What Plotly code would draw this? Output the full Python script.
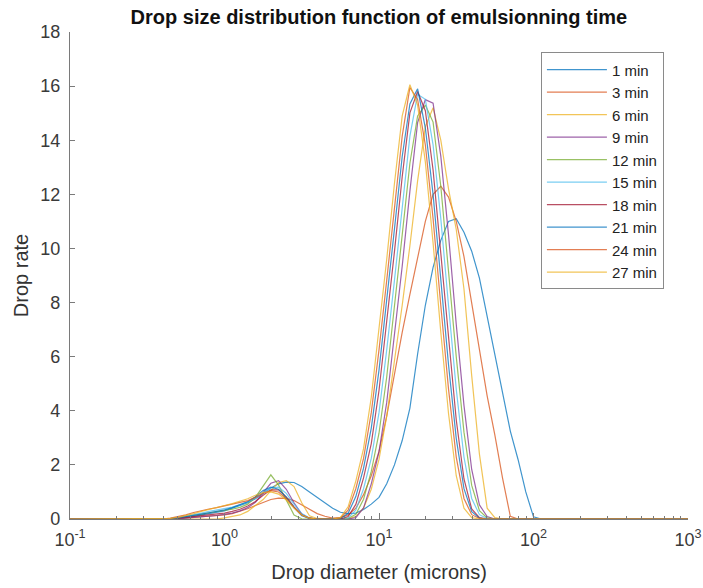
import plotly.graph_objects as go

# particle size bins (microns)
diameter = [0.1,
            0.398, 0.447, 0.501, 0.562, 0.631, 0.708, 0.794, 0.891, 1.000, 1.122,
            1.259, 1.413, 1.585, 1.778, 1.995, 2.239, 2.512, 2.818, 3.162, 3.548,
            3.981, 4.467, 5.012, 5.623, 6.310, 7.079, 7.943, 8.913, 10.00, 11.22,
            12.59, 14.13, 15.85, 17.78, 19.95, 22.39, 25.12, 28.18, 31.62, 35.48,
            39.81, 44.67, 50.12, 56.23, 63.10, 70.79, 79.43, 89.13, 100.0, 112.2,
            125.9, 1000]

rate_01 = [0,
           0, 0, 0.02, 0.05, 0.1, 0.15, 0.2, 0.25, 0.3, 0.4,
           0.5, 0.6, 0.75, 0.95, 1.15, 1.3, 1.36, 1.35, 1.2, 1.0,
           0.8, 0.6, 0.4, 0.25, 0.2, 0.22, 0.35, 0.55, 0.8, 1.3,
           2.0, 2.9, 4.1, 6.1, 7.9, 9.3, 10.3, 11.0, 11.1, 10.6,
           9.9, 8.9, 7.5, 6.1, 4.6, 3.25, 2.2, 1.0, 0.08, 0,
           0, 0]
rate_03 = [0,
           0, 0, 0.02, 0.04, 0.06, 0.08, 0.1, 0.12, 0.15, 0.2,
           0.28, 0.38, 0.5, 0.62, 0.72, 0.77, 0.76, 0.68, 0.52, 0.35,
           0.2, 0.1, 0.03, 0.05, 0.15, 0.4, 0.9, 1.6, 2.5, 3.8,
           5.4, 6.9, 8.3, 9.6, 11.0, 12.0, 12.3, 11.9, 11.0, 9.7,
           8.0, 6.3, 4.55, 3.1, 1.5, 0.1, 0, 0, 0, 0,
           0, 0]
rate_06 = [0,
           0, 0, 0, 0, 0, 0, 0, 0, 0.04, 0.09,
           0.15, 0.28, 0.5, 0.72, 1.05, 1.35, 1.42, 1.2, 0.6, 0.12,
           0.02, 0, 0, 0, 0, 0.1, 0.4, 1.1, 2.2, 3.8,
           5.8, 7.9, 10.1, 12.5, 14.5, 15.2, 14.0, 12.2, 10.7, 8.5,
           5.3, 2.4, 0.4, 0.05, 0, 0, 0, 0, 0, 0,
           0, 0]
rate_09 = [0,
           0, 0, 0.01, 0.03, 0.05, 0.07, 0.1, 0.13, 0.17, 0.22,
           0.3, 0.42, 0.62, 0.95, 1.32, 1.42, 1.1, 0.6, 0.18, 0.03,
           0, 0, 0, 0, 0, 0.05, 0.41, 1.3, 2.48, 4.31,
           6.75, 9.34, 12.12, 14.65, 15.5, 15.37, 13.41, 10.5, 7.2, 4.2,
           1.83, 0.52, 0.09, 0, 0, 0, 0, 0, 0, 0,
           0, 0]
rate_12 = [0,
           0, 0.01, 0.04, 0.08, 0.13, 0.18, 0.23, 0.27, 0.31, 0.36,
           0.43, 0.55, 0.8, 1.2, 1.63, 1.25, 0.7, 0.15, 0.01, 0,
           0, 0, 0, 0, 0.02, 0.17, 0.73, 1.76, 3.17, 5.25,
           7.78, 10.5, 13.15, 14.9, 15.3, 14.67, 12.3, 9.21, 6.0, 3.21,
           1.24, 0.31, 0.04, 0, 0, 0, 0, 0, 0, 0,
           0, 0]
rate_15 = [0,
           0, 0.02, 0.05, 0.1, 0.16, 0.22, 0.28, 0.33, 0.38, 0.44,
           0.52, 0.62, 0.78, 0.98, 1.15, 1.18, 0.95, 0.55, 0.2, 0.04,
           0, 0, 0, 0, 0.04, 0.33, 1.12, 2.24, 3.93, 6.25,
           8.82, 11.56, 14.15, 15.7, 15.51, 13.83, 11.1, 7.89, 4.8, 2.29,
           0.76, 0.16, 0.02, 0, 0, 0, 0, 0, 0, 0,
           0, 0]
rate_18 = [0,
           0, 0.01, 0.03, 0.06, 0.09, 0.12, 0.15, 0.18, 0.22, 0.28,
           0.36, 0.48, 0.65, 0.88, 1.08, 1.08, 0.82, 0.45, 0.15, 0.03,
           0, 0, 0, 0, 0.09, 0.54, 1.52, 2.79, 4.75, 7.26,
           9.88, 12.65, 15.01, 15.8, 15.09, 12.9, 9.87, 6.6, 3.67, 1.48,
           0.37, 0.05, 0, 0, 0, 0, 0, 0, 0, 0,
           0, 0]
rate_21 = [0,
           0, 0.01, 0.04, 0.08, 0.13, 0.18, 0.23, 0.28, 0.34, 0.42,
           0.52, 0.64, 0.82, 1.05, 1.18, 1.1, 0.8, 0.42, 0.12, 0.02,
           0, 0, 0, 0.02, 0.21, 0.83, 1.88, 3.36, 5.5, 8.04,
           10.72, 13.4, 15.34, 15.9, 14.46, 12.0, 8.88, 5.7, 2.98, 1.12,
           0.27, 0.03, 0, 0, 0, 0, 0, 0, 0, 0,
           0, 0]
rate_24 = [0,
           0, 0.03, 0.08, 0.15, 0.24, 0.31, 0.37, 0.42, 0.48, 0.54,
           0.6, 0.68, 0.8, 0.95, 1.05, 1.0, 0.75, 0.42, 0.15, 0.03,
           0, 0, 0, 0.04, 0.33, 1.12, 2.24, 3.93, 6.25, 8.82,
           11.56, 14.15, 15.95, 15.51, 13.83, 11.1, 7.89, 4.8, 2.29, 0.76,
           0.16, 0.02, 0, 0, 0, 0, 0, 0, 0, 0,
           0, 0]
rate_27 = [0,
           0, 0.02, 0.06, 0.12, 0.2, 0.28, 0.36, 0.43, 0.5, 0.57,
           0.65, 0.75, 0.88, 0.98, 1.0, 0.92, 0.7, 0.4, 0.15, 0.03,
           0, 0, 0, 0.05, 0.45, 1.4, 2.6, 4.5, 7.0, 9.6,
           12.4, 14.9, 16.05, 15.3, 13.2, 10.2, 6.9, 3.9, 1.6, 0.4,
           0.05, 0, 0, 0, 0, 0, 0, 0, 0, 0,
           0, 0]

labels = ['1 min', '3 min', '6 min', '9 min', '12 min',
          '15 min', '18 min', '21 min', '24 min', '27 min']
series = [rate_01, rate_03, rate_06, rate_09, rate_12,
          rate_15, rate_18, rate_21, rate_24, rate_27]

# matlab default colour order
colors = ['#0072BD', '#D95319', '#EDB120', '#7E2F8E', '#77AC30',
          '#4DBEEE', '#A2142F', '#0072BD', '#D95319', '#EDB120']

font = 'Liberation Sans, Arial, sans-serif'

fig = go.Figure()
for name, ys, c in zip(labels, series, colors):
    fig.add_trace(go.Scatter(x=diameter, y=ys, mode='lines', name=name,
                             line=dict(color=c, width=1.2), opacity=0.75))

minor_vals = [m * 10 ** e for e in range(-1, 3) for m in range(2, 10)]

fig.update_layout(
    width=703, height=588,
    margin=dict(l=70, r=15, t=32, b=69),
    paper_bgcolor='white', plot_bgcolor='white',
    font=dict(family=font, size=18, color='#3a3a3a'),
    title=dict(text='<b>Drop size distribution function of emulsionning time</b>',
               x=0.539, xanchor='center', y=0.971, yanchor='middle',
               font=dict(size=20, color='#111111')),
    legend=dict(x=0.762, y=0.958, xanchor='left', yanchor='top',
                bordercolor='#8a8a8a', borderwidth=1, bgcolor='white',
                font=dict(size=15, color='#222222'), itemwidth=60,
                tracegroupgap=0),
    xaxis=dict(type='log', range=[-1, 3], showgrid=False, zeroline=False,
               showline=True, linecolor='#7a7a7a', linewidth=1.3,
               ticks='inside', ticklen=6, tickcolor='#7a7a7a',
               ticklabelstandoff=4, automargin=False,
               tickvals=[0.1, 1, 10, 100, 1000],
               ticktext=['10<sup>-1</sup>', '10<sup>0</sup>', '10<sup>1</sup>',
                         '10<sup>2</sup>', '10<sup>3</sup>'],
               minor=dict(ticks='inside', ticklen=3, tickcolor='#7a7a7a',
                          tickvals=minor_vals),
               title=dict(text='Drop diameter (microns)', standoff=16,
                          font=dict(size=20, color='#333333'))),
    yaxis=dict(range=[0, 18], dtick=2, showgrid=False, zeroline=False,
               showline=True, linecolor='#7a7a7a', linewidth=1.3,
               ticks='inside', ticklen=5, tickcolor='#7a7a7a',
               ticklabelstandoff=5, automargin=False,
               title=dict(text='Drop rate', standoff=6,
                          font=dict(size=20, color='#333333'))),
)

# drop the default 8px page margin so the figure fills the window exactly
fig.write_html('out.html', config={'displayModeBar': False},
               post_script="document.body.style.margin='0';")
